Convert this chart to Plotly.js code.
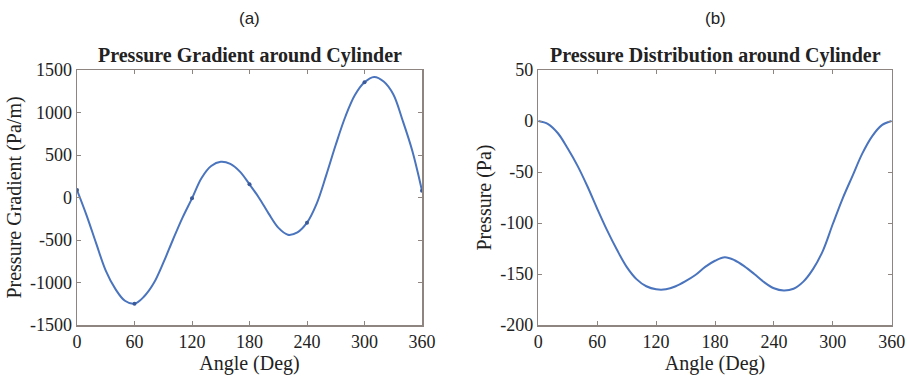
<!DOCTYPE html>
<html>
<head>
<meta charset="utf-8">
<script src="https://cdn.plot.ly/plotly-3.0.1.min.js"></script>
<style>html,body{margin:0;padding:0;background:#fff;}#chart{width:907px;height:376px;}</style>
</head>
<body>
<div id="chart"></div>
<script>
// Panel (a): pressure gradient (Pa/m) vs angle (deg)
const gradAngles = [0, 10, 20, 30, 40, 50, 60, 70, 80, 90, 100, 110, 120, 130, 140, 150, 160, 170, 180, 190, 200, 210, 220, 230, 240, 250, 260, 270, 280, 290, 300, 310, 320, 330, 340, 350, 360];
const gradValues = [88, -210, -540, -860, -1075, -1215, -1250, -1165, -1010, -770, -500, -240, -10, 230, 370, 420, 395, 304, 155, -5, -190, -355, -438, -410, -296, -75, 260, 620, 950, 1205, 1355, 1418, 1365, 1215, 900, 545, 80];
// Small dot markers on panel (a)
const gradMarkAngles = [0, 60, 120, 180, 240, 300, 360];
const gradMarkValues = [88, -1250, -10, 155, -296, 1355, 80];

// Panel (b): pressure (Pa) vs angle (deg)
const presAngles = [0, 10, 20, 30, 40, 50, 60, 70, 80, 90, 100, 110, 120, 130, 140, 150, 160, 170, 180, 190, 200, 210, 220, 230, 240, 250, 260, 270, 280, 290, 300, 310, 320, 330, 340, 350, 360];
const presValues = [0, -3, -12, -27, -44, -64, -86, -107, -126, -143, -155, -162, -165, -165, -162, -157, -151, -143, -137, -133.5, -136.5, -142.5, -150, -158, -164, -166.2, -164.5, -157.5, -145, -127, -101, -76, -54, -32, -15, -4, 0];

// Tick labels
const angleTicks = [0, 60, 120, 180, 240, 300, 360];
const angleTickText = ['0', '60', '120', '180', '240', '300', '360'];
const gradTicks = [-1500, -1000, -500, 0, 500, 1000, 1500];
const gradTickText = ['-1500', '-1000', '-500', '0', '500', '1000', '1500'];
const presTicks = [-200, -150, -100, -50, 0, 50];
const presTickText = ['-200', '-150', '-100', '-50', '0', '50'];

const W = 907, H = 376;
const lineColor = '#4a74bd';
const frameColor = '#8f8580';
const serif = 'Liberation Serif, Times New Roman, serif';

const traces = [
  {x: gradAngles, y: gradValues, mode: 'lines', line: {color: lineColor, width: 2, shape: 'spline', smoothing: 1}, xaxis: 'x', yaxis: 'y', hoverinfo: 'skip'},
  {x: gradMarkAngles, y: gradMarkValues, mode: 'markers', marker: {color: '#3a5a9a', size: 4}, xaxis: 'x', yaxis: 'y', hoverinfo: 'skip'},
  {x: presAngles, y: presValues, mode: 'lines', line: {color: lineColor, width: 2, shape: 'spline', smoothing: 1}, xaxis: 'x2', yaxis: 'y2', hoverinfo: 'skip'}
];

function axisBase() {
  return {
    showgrid: false, zeroline: false, showline: true, mirror: 'ticks',
    linecolor: frameColor, linewidth: 1.5, ticks: 'inside', ticklen: 4,
    tickcolor: frameColor, tickwidth: 1,
    tickfont: {family: serif, size: 18, color: '#222'},
    tickmode: 'array'
  };
}

const yTop = 1 - 70 / H, yBot = 1 - 325 / H;
const titleFont = {family: serif, size: 20, color: '#222'};

const layout = {
  width: W, height: H,
  margin: {l: 0, r: 0, t: 0, b: 0},
  paper_bgcolor: '#fff', plot_bgcolor: '#fff',
  showlegend: false,
  xaxis: Object.assign(axisBase(), {
    domain: [77 / W, 422 / W], range: [0, 360], anchor: 'y',
    tickvals: angleTicks, ticktext: angleTickText,
    title: {text: 'Angle (Deg)', font: titleFont, standoff: 2}
  }),
  yaxis: Object.assign(axisBase(), {
    domain: [yBot, yTop], range: [-1500, 1500], anchor: 'x',
    tickvals: gradTicks, ticktext: gradTickText,
    title: {text: 'Pressure Gradient (Pa/m)', font: titleFont, standoff: 3}
  }),
  xaxis2: Object.assign(axisBase(), {
    domain: [538.3 / W, 891.7 / W], range: [0, 360], anchor: 'y2',
    tickvals: angleTicks, ticktext: angleTickText,
    title: {text: 'Angle (Deg)', font: titleFont, standoff: 2}
  }),
  yaxis2: Object.assign(axisBase(), {
    domain: [yBot, yTop], range: [-200, 50], anchor: 'x2',
    tickvals: presTicks, ticktext: presTickText,
    title: {text: 'Pressure (Pa)', font: titleFont, standoff: 3}
  }),
  annotations: [
    {text: '(a)', x: 249.5 / W, y: 1 - 19 / H, xref: 'paper', yref: 'paper', showarrow: false, font: {family: 'Liberation Sans, Arial, sans-serif', size: 17, color: '#222'}, xanchor: 'center', yanchor: 'middle'},
    {text: '(b)', x: 715 / W, y: 1 - 19 / H, xref: 'paper', yref: 'paper', showarrow: false, font: {family: 'Liberation Sans, Arial, sans-serif', size: 17, color: '#222'}, xanchor: 'center', yanchor: 'middle'},
    {text: '<b>Pressure Gradient around Cylinder</b>', x: 249.5 / W, y: 1 - 55 / H, xref: 'paper', yref: 'paper', showarrow: false, font: {family: serif, size: 20, color: '#222'}, xanchor: 'center', yanchor: 'middle'},
    {text: '<b>Pressure Distribution around Cylinder</b>', x: 715 / W, y: 1 - 55 / H, xref: 'paper', yref: 'paper', showarrow: false, font: {family: serif, size: 20, color: '#222'}, xanchor: 'center', yanchor: 'middle'}
  ]
};

Plotly.newPlot('chart', traces, layout, {staticPlot: true, displayModeBar: false});
</script>
</body>
</html>
